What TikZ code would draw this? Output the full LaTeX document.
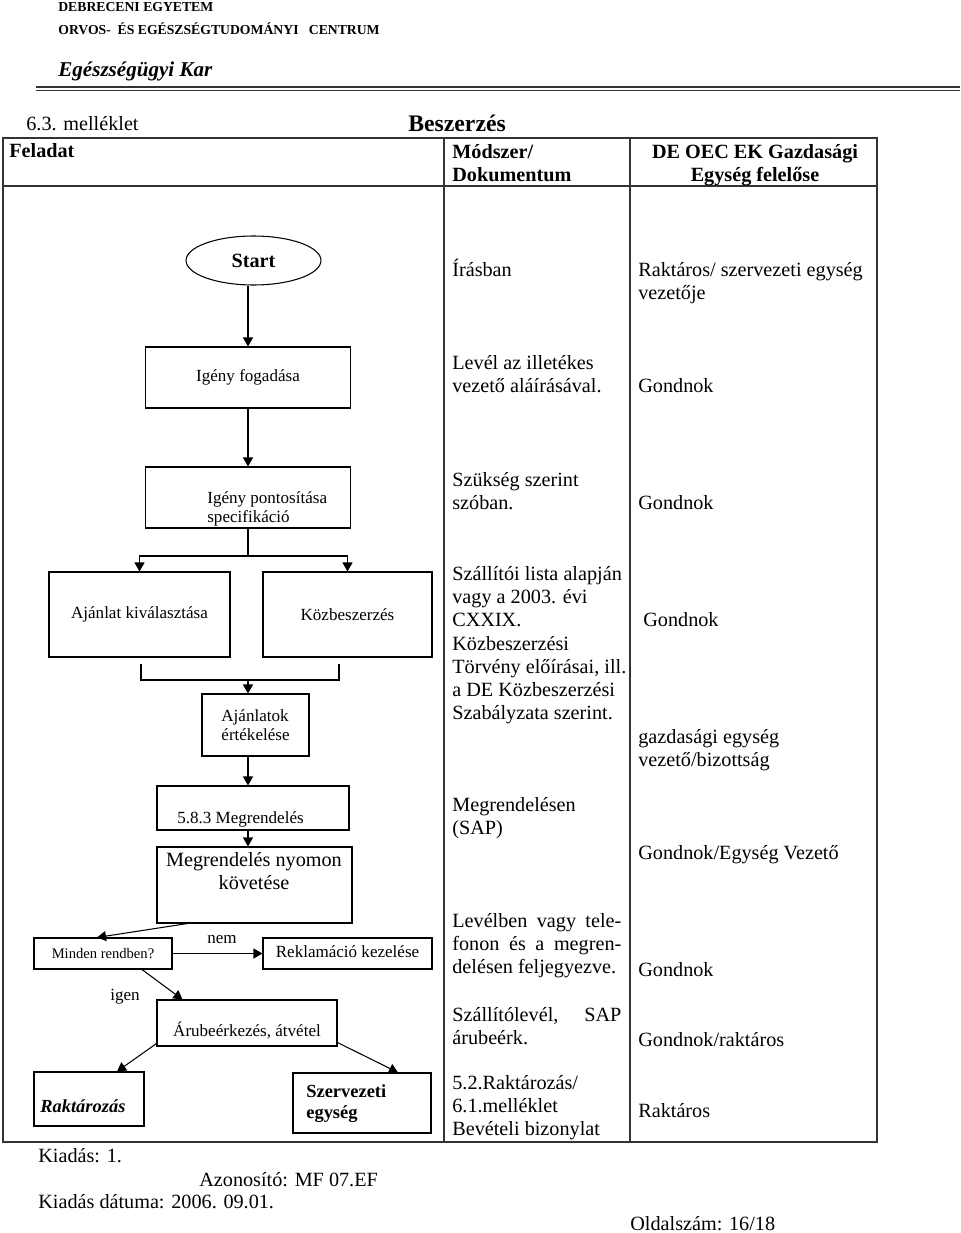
\documentclass[tikz,border=0pt]{standalone}
\usepackage{fontspec}
\setmainfont{Liberation Serif}
\usetikzlibrary{arrows.meta,shapes.geometric}

\begin{document}
\begin{tikzpicture}[x=0.02cm,y=-0.02cm]
\tikzset{doboz/.style={draw, line width=0.6pt, inner sep=0pt, font=\fontsize{9.7}{10.8}\selectfont},
nyil/.style={-{Triangle[length=0.18cm,width=0.2cm]}, line width=0.6pt},
felirat/.style={anchor=base west, inner sep=0pt, align=left, font=\fontsize{9.7}{10.8}\selectfont},
szoveg/.style={anchor=base west, inner sep=0pt, align=left, font=\fontsize{11.5}{13.2}\selectfont},
vonal/.style={line width=0.9pt, draw=black!80}}
\useasboundingbox (0,0) rectangle (960,1233);
\node[szoveg, font=\bfseries\fontsize{7.8}{9}\selectfont] (egyetem) at (58,11.5) {DEBRECENI EGYETEM};
\node[szoveg, font=\bfseries\fontsize{7.8}{9}\selectfont] (centrum) at (58,35) {ORVOS-\ \ ÉS EGÉSZSÉGTUDOMÁNYI\ \ \ CENTRUM};
\node[szoveg, font=\bfseries\itshape\fontsize{12}{14}\selectfont] (kar) at (58,77) {Egészségügyi Kar};
\draw[line width=1.4pt, draw=black!80] (36,87) -- (960,87);
\draw[line width=0.6pt, draw=black!80] (36,90.5) -- (960,90.5);
\node[szoveg] (melleklet) at (26,131) {6.3. melléklet};
\node[szoveg, font=\bfseries\fontsize{13.5}{15}\selectfont] (cim) at (408,132) {Beszerzés};
\draw[vonal] (3,138) rectangle (877,1142);
\draw[vonal] (3,186) -- (877,186);
\draw[vonal] (444,138) -- (444,1142);
\draw[vonal] (630,138) -- (630,1142);
\node[szoveg, font=\bfseries\fontsize{11.5}{13.2}\selectfont] (feladat) at (9,158) {Feladat};
\node[szoveg, font=\bfseries\fontsize{11.5}{13.2}\selectfont] (modszer) at (452,181.3) {Módszer/\\Dokumentum};
\node[szoveg, anchor=base, align=center, font=\bfseries\fontsize{11.5}{13.2}\selectfont] (felelos) at (755,181.3) {DE OEC EK Gazdasági\\Egység felelőse};

\node[draw, ellipse, line width=0.6pt, minimum width=2.7cm, minimum height=0.98cm, font=\bfseries\fontsize{11.5}{13.2}\selectfont] (start) at (253.5,260.5) {Start};
\node[doboz, minimum width=4.1cm, minimum height=1.22cm] (fog) at (248,377.5) {Igény fogadása};
\node[doboz, minimum width=4.1cm, minimum height=1.22cm] (pont) at (248,497.5) {};
\node[felirat] (ponttxt) at (207,522) {Igény pontosítása\\specifikáció};
\node[doboz, minimum width=3.62cm, minimum height=1.7cm] (ajanlat) at (139.5,614.5) {\raisebox{-0.16cm}{Ajánlat kiválasztása}};
\node[doboz, minimum width=3.38cm, minimum height=1.7cm] (kozb) at (347.5,614.5) {\raisebox{-0.16cm}{Közbeszerzés}};
\node[doboz, minimum width=2.14cm, minimum height=1.24cm, align=left] (ert) at (255.5,725) {Ajánlatok\\értékelése};
\node[doboz, minimum width=3.84cm, minimum height=0.88cm] (megr) at (253,808) {};
\node[felirat] (megrtxt) at (177,823) {5.8.3 Megrendelés};
\node[doboz, minimum width=3.9cm, minimum height=1.52cm] (koves) at (254.5,885) {};
\node[szoveg, anchor=base, align=center] (kovestxt) at (254,889.3) {Megrendelés nyomon\\követése};
\node[doboz, minimum width=2.76cm, minimum height=0.62cm, font=\fontsize{8.3}{10}\selectfont] (minden) at (103,953.5) {Minden rendben?};
\node[doboz, minimum width=3.38cm, minimum height=0.62cm] (rekl) at (347.5,953.5) {\raisebox{0.07cm}{Reklamáció kezelése}};
\node[doboz, minimum width=3.6cm, minimum height=0.92cm] (aru) at (247,1023) {};
\node[felirat, anchor=base] (arutxt) at (247,1036) {Árubeérkezés, átvétel};
\node[doboz, minimum width=2.2cm, minimum height=1.08cm] (rakt) at (89,1099) {};
\node[felirat, font=\bfseries\itshape\fontsize{10.5}{12}\selectfont] (rakttxt) at (40,1112) {Raktározás};
\node[doboz, minimum width=2.76cm, minimum height=1.2cm] (szerv) at (362,1103) {};
\node[felirat, font=\bfseries\fontsize{10.5}{12.2}\selectfont] (szervtxt) at (306,1118.5) {Szervezeti\\egység};
\node[felirat] (nem) at (207,943) {nem};
\node[felirat] (igen) at (110,1000) {igen};

\coordinate (elag) at (248,556);
\coordinate (bal) at (141,664);
\coordinate (jobb) at (339,664);
\coordinate (osszefut) at (248,680);
\draw[nyil] (fog.north |- start.south) -- (fog.north);
\draw[nyil] (fog.south) -- (pont.north);
\draw[line width=0.6pt] (pont.south) -- (elag);
\draw[nyil] (elag) -| (ajanlat.north);
\draw[nyil] (elag) -| (kozb.north);
\draw[line width=0.6pt] (bal) |- (osszefut) -| (jobb);
\draw[nyil] (osszefut) -- (osszefut |- ert.north);
\draw[nyil] (ert.south -| fog.south) -- (megr.north -| fog.south);
\draw[nyil] (megr.south -| fog.south) -- (koves.north -| fog.south);
\draw[nyil] ([xshift=0.62cm]koves.south west) -- ([xshift=-0.12cm]minden.north);
\draw[nyil] (minden.east) -- (rekl.west);
\draw[nyil] ([xshift=0.78cm]minden.south) -- ([xshift=0.52cm]aru.north west);
\draw[nyil] ([yshift=0.06cm]aru.south west) -- ([xshift=0.56cm]rakt.north);
\draw[nyil] ([yshift=0.08cm]aru.south east) -- ([xshift=0.72cm]szerv.north);

\node[szoveg] (mod1) at (452,276) {Írásban};
\node[szoveg] (mod2) at (452,392.3) {Levél az illetékes\\vezető aláírásával.};
\node[szoveg] (mod3) at (452,509.3) {Szükség szerint\\szóban.};
\node[szoveg] (mod4) at (452,719.7) {Szállítói lista alapján\\vagy a 2003. évi\\CXXIX.\\Közbeszerzési\\Törvény előírásai, ill.\\a DE Közbeszerzési\\Szabályzata szerint.};
\node[szoveg] (mod5) at (452,834.3) {Megrendelésen\\(SAP)};
\node[szoveg] (mod6) at (452,973.6) {\makebox[3.38cm][s]{Levélben vagy tele-}\\\makebox[3.38cm][s]{fonon és a megren-}\\delésen feljegyezve.};
\node[szoveg] (mod7) at (452,1044.3) {\makebox[3.38cm][s]{Szállítólevél, SAP}\\árubeérk.};
\node[szoveg] (mod8) at (452,1135.6) {5.2.Raktározás/\\6.1.melléklet\\Bevételi bizonylat};

\node[szoveg] (fel1) at (638,299.3) {Raktáros/ szervezeti egység\\vezetője};
\node[szoveg] (fel2) at (638,392) {Gondnok};
\node[szoveg] (fel3) at (638,509) {Gondnok};
\node[szoveg] (fel4) at (643,626) {Gondnok};
\node[szoveg] (fel5) at (638,766.3) {gazdasági egység\\vezető/bizottság};
\node[szoveg] (fel6) at (638,859) {Gondnok/Egység Vezető};
\node[szoveg] (fel7) at (638,976) {Gondnok};
\node[szoveg] (fel8) at (638,1046) {Gondnok/raktáros};
\node[szoveg] (fel9) at (638,1117) {Raktáros};

\node[szoveg] (kiadas) at (38,1162) {Kiadás: 1.};
\node[szoveg] (azon) at (199,1186) {Azonosító: MF 07.EF};
\node[szoveg] (datum) at (38,1208) {Kiadás dátuma: 2006. 09.01.};
\node[szoveg] (oldal) at (630,1230) {Oldalszám: 16/18};
\end{tikzpicture}
\end{document}
